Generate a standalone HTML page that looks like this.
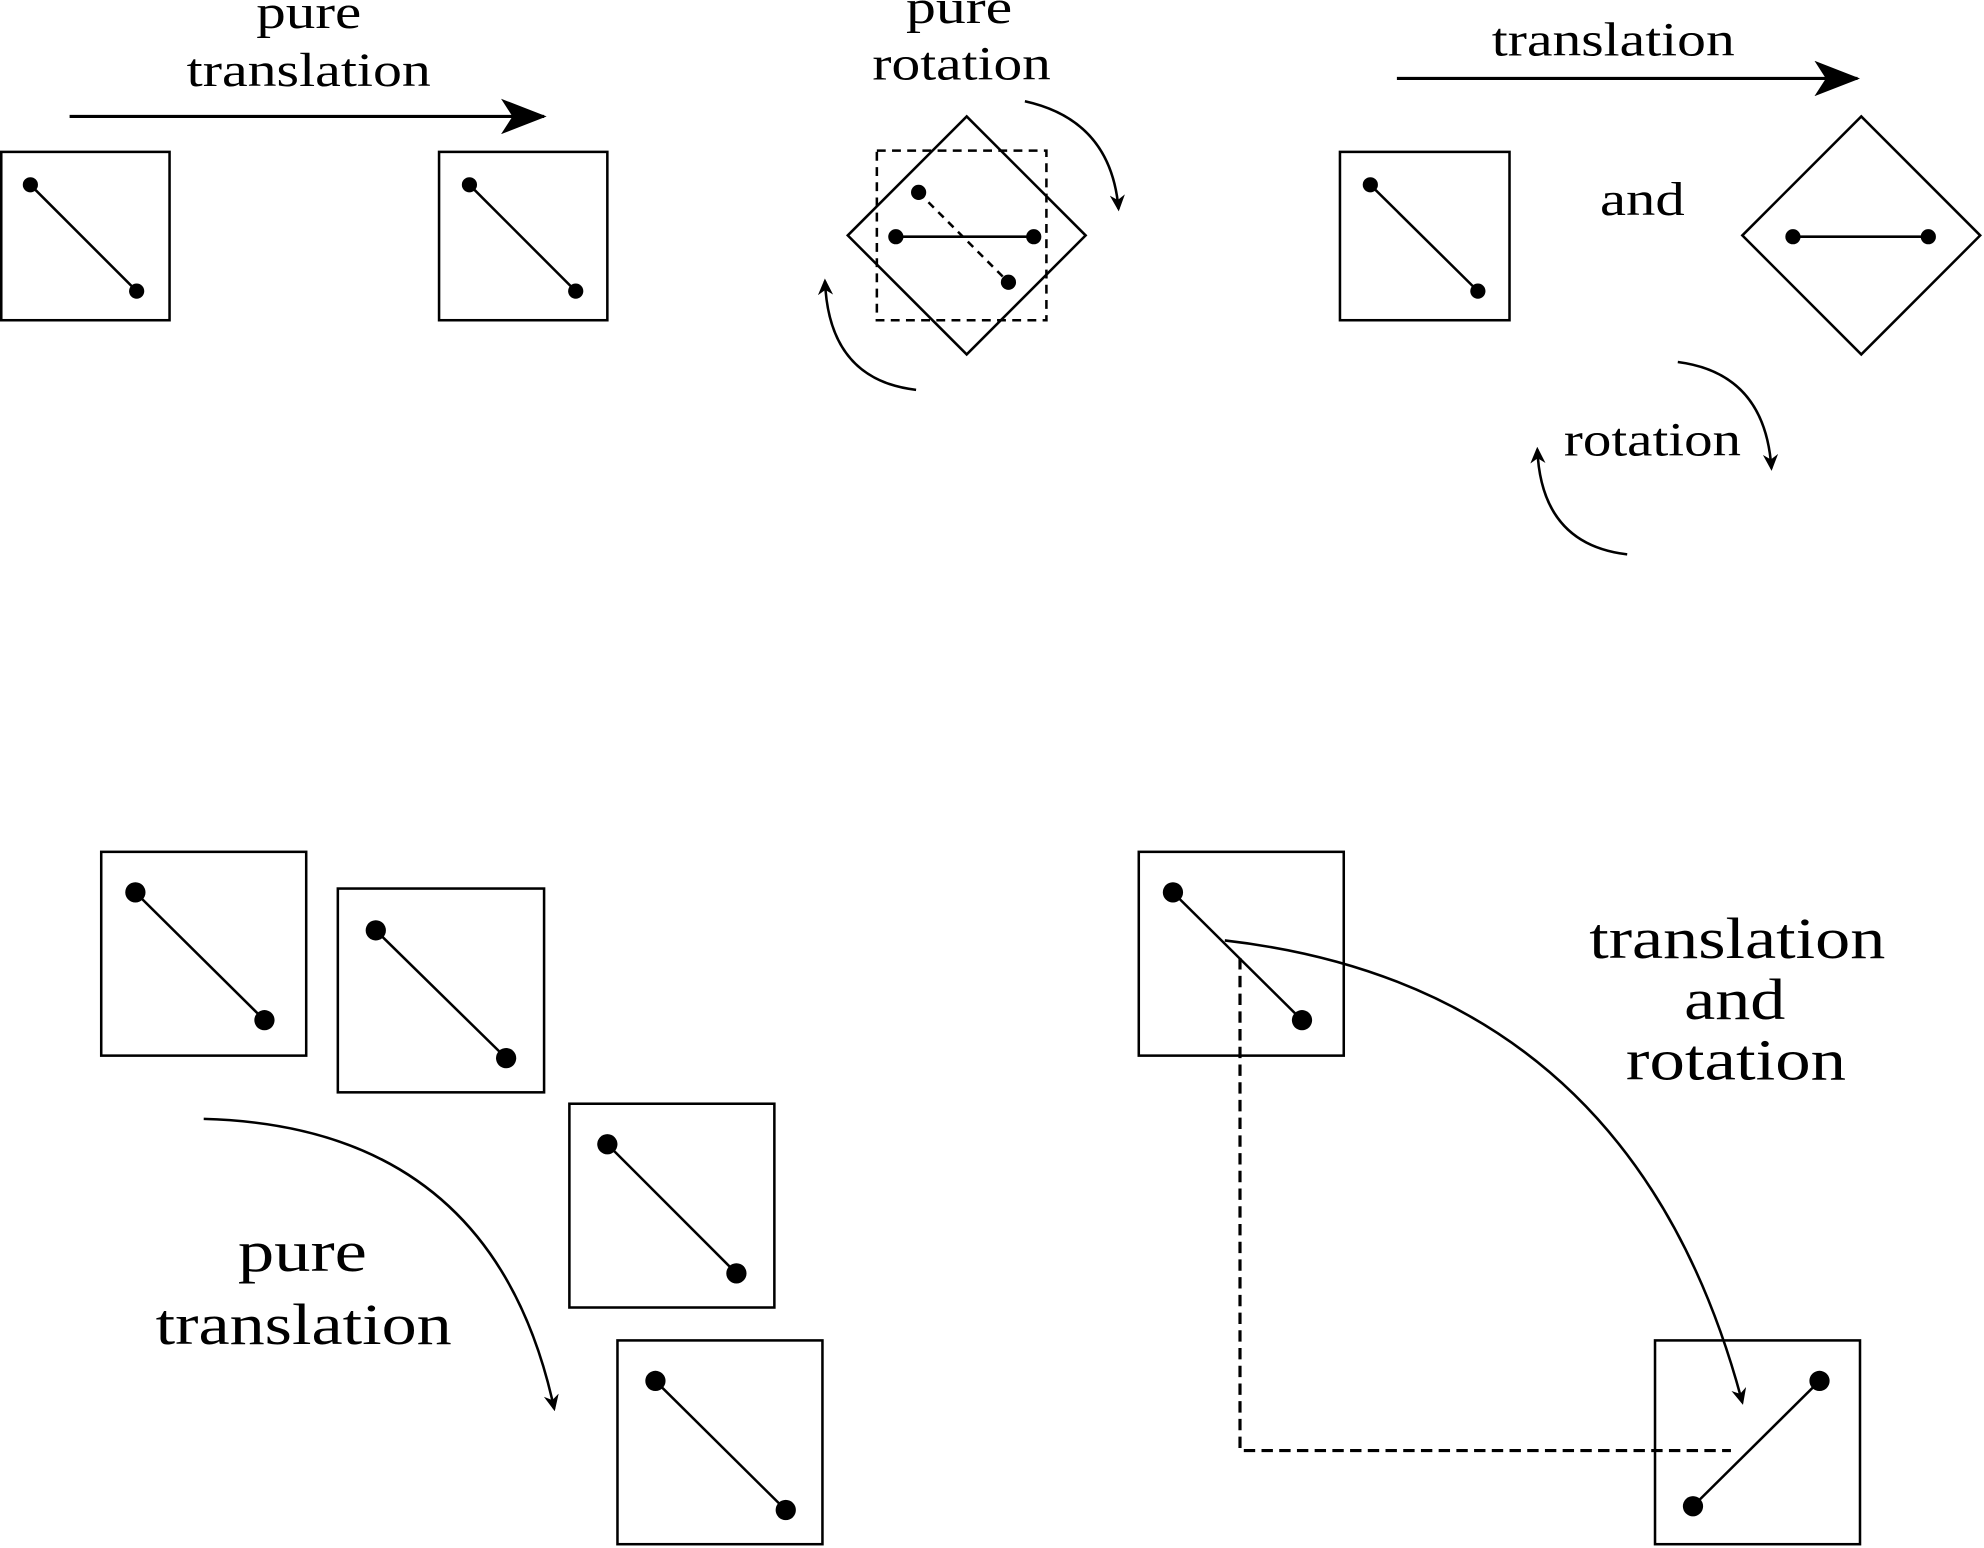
<!DOCTYPE html>
<html><head><meta charset="utf-8"><style>
html,body{margin:0;padding:0;background:#fff;}
svg{display:block;}
text{font-family:"Liberation Serif",serif;fill:#000;text-anchor:middle;}
</style></head><body>
<svg width="1984" height="1548" viewBox="0 0 1568 1223" preserveAspectRatio="none" xmlns="http://www.w3.org/2000/svg">
<defs>
<marker id="ah" markerWidth="13" markerHeight="12" refX="11" refY="6" orient="auto" markerUnits="userSpaceOnUse"><path d="M0,0 L13,6 L0,12 L4,6 Z" fill="#000"/></marker>
<marker id="big" markerWidth="36" markerHeight="28" refX="34" refY="14" orient="auto" markerUnits="userSpaceOnUse"><path d="M0,0 L36,14 L0,28 L9,14 Z" fill="#000"/></marker>
</defs>
<g fill="none" stroke="#000" stroke-width="2">
<line x1="55" y1="92" x2="430" y2="92" stroke-width="2.5" marker-end="url(#big)"/>
<rect x="1" y="120" width="133" height="133"/>
<line x1="24" y1="146" x2="108" y2="230"/>
<rect x="347" y="120" width="133" height="133"/>
<line x1="371" y1="146" x2="455" y2="230"/>
<rect x="693" y="119" width="134" height="134" stroke-dasharray="7,5"/>
<line x1="726" y1="152" x2="797" y2="223" stroke-dasharray="6,5"/>
<polygon points="764,92 858,186 764,280 670,186"/>
<line x1="708" y1="187" x2="817" y2="187"/>
<path d="M810,80 Q878,95 884,165" marker-end="url(#ah)"/>
<path d="M724,308 Q655,300 652,222" marker-end="url(#ah)"/>
<line x1="1104" y1="62" x2="1468" y2="62" stroke-width="2.5" marker-end="url(#big)"/>
<rect x="1059" y="120" width="134" height="133"/>
<line x1="1083" y1="146" x2="1168" y2="230"/>
<polygon points="1471,92 1565,186 1471,280 1377,186"/>
<line x1="1417" y1="187" x2="1524" y2="187"/>
<path d="M1326,286 Q1395,295 1400,370" marker-end="url(#ah)"/>
<path d="M1286,438 Q1218,430 1215,355" marker-end="url(#ah)"/>
<rect x="80" y="673" width="162" height="161"/>
<line x1="107" y1="705" x2="209" y2="806"/>
<rect x="267" y="702" width="163" height="161"/>
<line x1="297" y1="735" x2="400" y2="836"/>
<rect x="450" y="872" width="162" height="161"/>
<line x1="480" y1="904" x2="582" y2="1006"/>
<rect x="488" y="1059" width="162" height="161"/>
<line x1="518" y1="1091" x2="621" y2="1193"/>
<path d="M161,884 Q390,890 438,1113" marker-end="url(#ah)"/>
<rect x="900" y="673" width="162" height="161"/>
<line x1="927" y1="705" x2="1029" y2="806"/>
<path d="M980,757 L980,1146 L1368,1146" stroke-dasharray="9,5" stroke-width="2.5"/>
<path d="M968,743 Q1290,780 1377,1108" marker-end="url(#ah)"/>
<rect x="1308" y="1059" width="162" height="161"/>
<line x1="1338" y1="1190" x2="1438" y2="1091"/>
</g>
<g fill="#000">
<circle cx="24" cy="146" r="6"/><circle cx="108" cy="230" r="6"/>
<circle cx="371" cy="146" r="6"/><circle cx="455" cy="230" r="6"/>
<circle cx="726" cy="152" r="6"/><circle cx="797" cy="223" r="6"/>
<circle cx="708" cy="187" r="6"/><circle cx="817" cy="187" r="6"/>
<circle cx="1083" cy="146" r="6"/><circle cx="1168" cy="230" r="6"/>
<circle cx="1417" cy="187" r="6"/><circle cx="1524" cy="187" r="6"/>
<circle cx="107" cy="705" r="8"/><circle cx="209" cy="806" r="8"/>
<circle cx="297" cy="735" r="8"/><circle cx="400" cy="836" r="8"/>
<circle cx="480" cy="904" r="8"/><circle cx="582" cy="1006" r="8"/>
<circle cx="518" cy="1091" r="8"/><circle cx="621" cy="1193" r="8"/>
<circle cx="927" cy="705" r="8"/><circle cx="1029" cy="806" r="8"/>
<circle cx="1338" cy="1190" r="8"/><circle cx="1438" cy="1091" r="8"/>
</g>
<text font-size="38" x="244" y="22" textLength="83" lengthAdjust="spacingAndGlyphs">pure</text>
<text font-size="38" x="244" y="68" textLength="193" lengthAdjust="spacingAndGlyphs">translation</text>
<text font-size="38" x="758" y="18" textLength="84" lengthAdjust="spacingAndGlyphs">pure</text>
<text font-size="38" x="760" y="63" textLength="141" lengthAdjust="spacingAndGlyphs">rotation</text>
<text font-size="38" x="1275" y="44" textLength="192" lengthAdjust="spacingAndGlyphs">translation</text>
<text font-size="38" x="1298" y="170" textLength="67" lengthAdjust="spacingAndGlyphs">and</text>
<text font-size="38" x="1306" y="360" textLength="140" lengthAdjust="spacingAndGlyphs">rotation</text>
<text font-size="46" x="239" y="1004" textLength="102" lengthAdjust="spacingAndGlyphs">pure</text>
<text font-size="46" x="240" y="1062" textLength="234" lengthAdjust="spacingAndGlyphs">translation</text>
<text font-size="46" x="1373" y="757" textLength="234" lengthAdjust="spacingAndGlyphs">translation</text>
<text font-size="46" x="1371" y="805" textLength="80" lengthAdjust="spacingAndGlyphs">and</text>
<text font-size="46" x="1372" y="853" textLength="174" lengthAdjust="spacingAndGlyphs">rotation</text>
</svg>
</body></html>
